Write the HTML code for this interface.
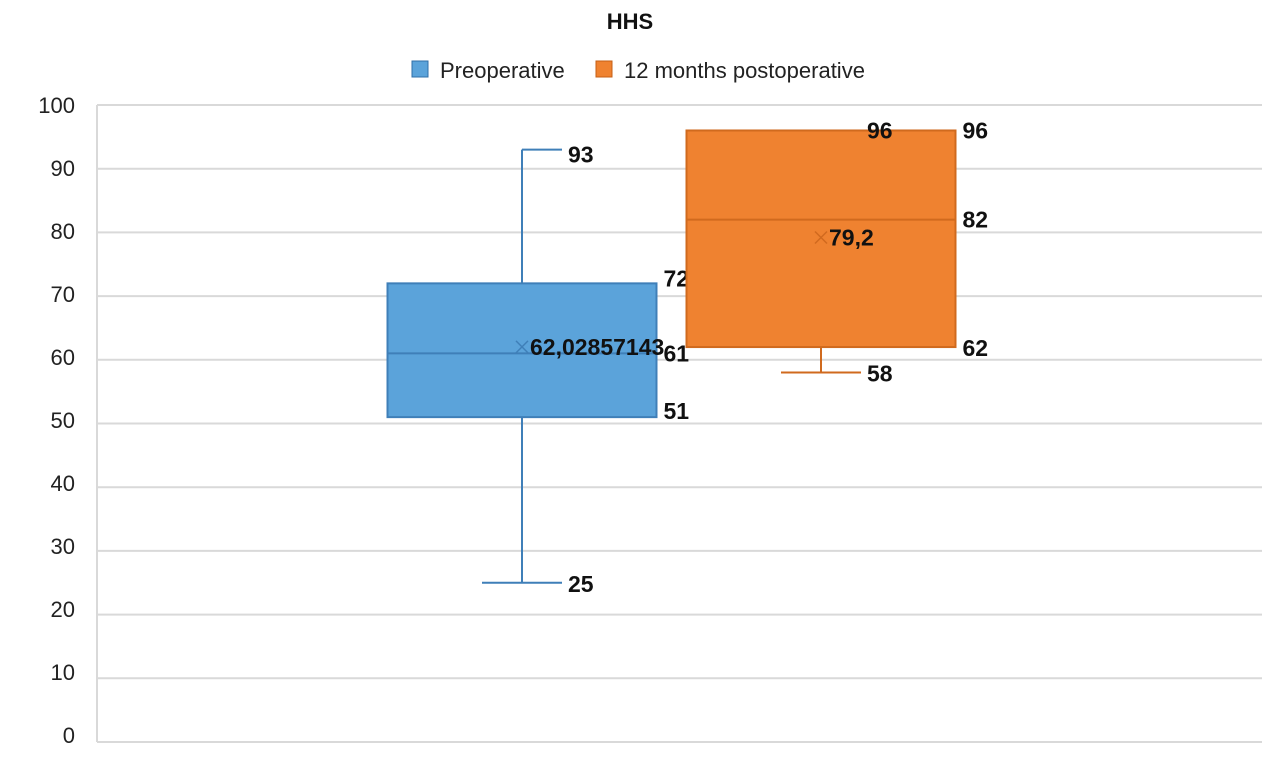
<!DOCTYPE html>
<html><head><meta charset="utf-8"><style>
html,body{margin:0;padding:0;background:#fff;}
svg text{font-family:"Liberation Sans Narrow","Liberation Sans",sans-serif;}
</style></head><body>
<svg id="chart" width="1264" height="758" xmlns="http://www.w3.org/2000/svg">
<text x="630" y="29" font-size="22" text-anchor="middle" fill="#111" font-weight="bold">HHS</text>
<g>
<rect x="412" y="61" width="16" height="16" fill="#5ba3da" stroke="#2f6fa8"/>
<text x="440" y="78" font-size="22" fill="#222">Preoperative</text>
<rect x="596" y="61" width="16" height="16" fill="#ef8230" stroke="#c45f15"/>
<text x="624" y="78" font-size="22" fill="#222">12 months postoperative</text>
</g>
<g id="grid"></g><g id="boxes"></g>
<script>
const ticks=[0,10,20,30,40,50,60,70,80,90,100];
const names=['preoperative','postoperative'];
const mins=[25,58];
const q1s=[51,62];
const medians=[61,82];
const q3s=[72,96];
const maxs=[93,96];
const means=[62.02857143,79.2];
const meanLabels=['62,02857143','79,2'];
const fills=['#5ba3da','#ef8230'];
const strokes=['#3f7fb8','#d06a1e'];
const centers=[522,821];
const NS='http://www.w3.org/2000/svg';
const y=v=>742-v*6.37;
const grid=document.getElementById('grid'),boxes=document.getElementById('boxes');
function mk(p,tag,a){const e=document.createElementNS(NS,tag);for(const k in a)e.setAttribute(k,a[k]);p.appendChild(e);return e;}
ticks.forEach(t=>{
 const l=mk(grid,'line',{x1:97,x2:1262,y1:y(t),y2:y(t),stroke:'#d9d9d9','stroke-width':2});
 
 
 const tx=mk(grid,'text',{x:75,y:y(t)+8-(100-t)*0.07,'font-size':22,'text-anchor':'end',fill:'#222'});tx.textContent=t;
 
 
});
const ax=mk(grid,'line',{x1:97,x2:97,y1:y(100),y2:742,stroke:'#d9d9d9','stroke-width':2});


names.forEach((n,i)=>{
 const c=centers[i],hw=134.5,s=strokes[i];
 const g=mk(boxes,'g',{});
 
 
 mk(g,'line',{x1:c,x2:c,y1:y(maxs[i]),y2:y(q3s[i]),stroke:s,'stroke-width':2});
 mk(g,'line',{x1:c,x2:c,y1:y(q1s[i]),y2:y(mins[i]),stroke:s,'stroke-width':2});
 if(maxs[i]>q3s[i])mk(g,'line',{x1:c,x2:c+40,y1:y(maxs[i]),y2:y(maxs[i]),stroke:s,'stroke-width':2});
 mk(g,'line',{x1:c-40,x2:c+40,y1:y(mins[i]),y2:y(mins[i]),stroke:s,'stroke-width':2});
 mk(g,'rect',{x:c-hw,y:y(q3s[i]),width:2*hw,height:y(q1s[i])-y(q3s[i]),fill:fills[i],stroke:s,'stroke-width':2});
 mk(g,'line',{x1:c-hw,x2:c+hw,y1:y(medians[i]),y2:y(medians[i]),stroke:s,'stroke-width':2});
 const m=y(means[i]);
 mk(g,'path',{d:`M${c-6} ${m-6}L${c+6} ${m+6}M${c+6} ${m-6}L${c-6} ${m+6}`,stroke:s,'stroke-width':1.5});
 const lab=(txt,x,yy)=>{const t=mk(g,'text',{x:x,y:yy+8,'font-size':23,'font-weight':'bold',fill:'#111'});t.textContent=txt;return t;};
 const rx=c+hw+7;
 lab(maxs[i],c+46,y(maxs[i])+(i?0:5));
 lab(q3s[i],rx,y(q3s[i])+(i?0:-5));
 lab(medians[i],rx,y(medians[i]));
 lab(q1s[i],rx,y(q1s[i])+(i?1:-6));
 lab(mins[i],c+46,y(mins[i])+1);
 lab(meanLabels[i],c+8,m);
});
</script>
</svg>
</body></html>
